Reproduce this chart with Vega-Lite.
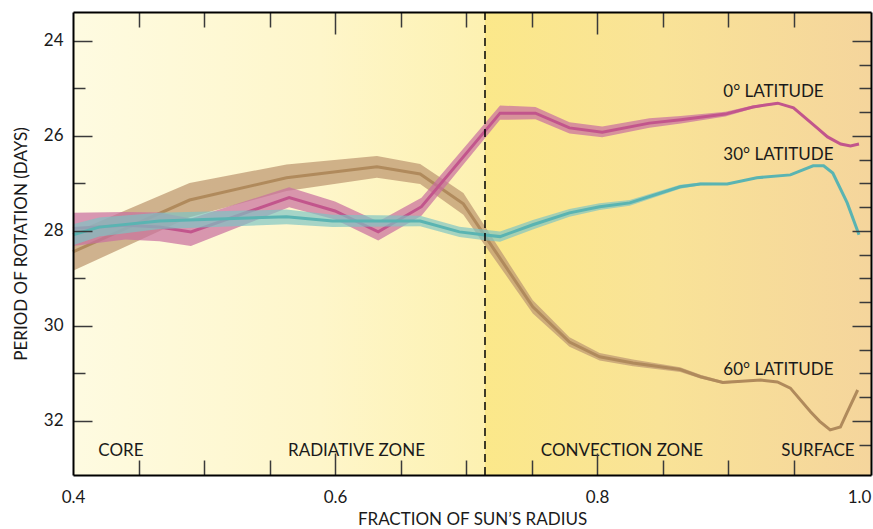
{
  "$schema": "https://vega.github.io/schema/vega-lite/v6.json",
  "width": 798,
  "height": 463,
  "autosize": "none",
  "padding": {"left": 73, "top": 12, "right": 2, "bottom": 54},
  "background": "#ffffff",
  "config": {
    "view": {"stroke": null},
    "font": "Lato",
    "axis": {"zindex": 1, "grid": false, "labelFont": "Lato", "titleFont": "Lato", "labelColor": "#1a1a1a", "titleColor": "#1a1a1a", "labelFontSize": 17, "titleFontSize": 17, "titleFontWeight": "normal", "domainColor": "#000000", "domainWidth": 2, "tickColor": "#3a3a3a", "tickWidth": 1.5}
  },
  "datasets": {
    "series": [
      {"lat": "0", "r": 0.400, "mid": 27.95, "lo": 27.62, "hi": 28.32},
      {"lat": "0", "r": 0.440, "mid": 27.88, "lo": 27.60, "hi": 28.18},
      {"lat": "0", "r": 0.466, "mid": 27.92, "lo": 27.61, "hi": 28.22},
      {"lat": "0", "r": 0.490, "mid": 28.02, "lo": 27.74, "hi": 28.32},
      {"lat": "0", "r": 0.565, "mid": 27.30, "lo": 27.08, "hi": 27.50},
      {"lat": "0", "r": 0.600, "mid": 27.58, "lo": 27.38, "hi": 27.76},
      {"lat": "0", "r": 0.633, "mid": 28.02, "lo": 27.80, "hi": 28.20},
      {"lat": "0", "r": 0.666, "mid": 27.49, "lo": 27.30, "hi": 27.68},
      {"lat": "0", "r": 0.726, "mid": 25.52, "lo": 25.36, "hi": 25.66},
      {"lat": "0", "r": 0.753, "mid": 25.52, "lo": 25.39, "hi": 25.65},
      {"lat": "0", "r": 0.779, "mid": 25.83, "lo": 25.71, "hi": 25.95},
      {"lat": "0", "r": 0.804, "mid": 25.92, "lo": 25.80, "hi": 26.03},
      {"lat": "0", "r": 0.840, "mid": 25.73, "lo": 25.63, "hi": 25.83},
      {"lat": "0", "r": 0.864, "mid": 25.66, "lo": 25.58, "hi": 25.74},
      {"lat": "0", "r": 0.898, "mid": 25.54, "lo": 25.49, "hi": 25.59},
      {"lat": "0", "r": 0.919, "mid": 25.39, "lo": 25.36, "hi": 25.42},
      {"lat": "0", "r": 0.938, "mid": 25.31, "lo": 25.29, "hi": 25.33},
      {"lat": "0", "r": 0.950, "mid": 25.41, "lo": 25.40, "hi": 25.42},
      {"lat": "0", "r": 0.968, "mid": 25.83, "lo": 25.83, "hi": 25.83},
      {"lat": "0", "r": 0.976, "mid": 26.02, "lo": 26.02, "hi": 26.02},
      {"lat": "0", "r": 0.986, "mid": 26.17, "lo": 26.17, "hi": 26.17},
      {"lat": "0", "r": 0.9935, "mid": 26.21, "lo": 26.21, "hi": 26.21},
      {"lat": "0", "r": 1.000, "mid": 26.17, "lo": 26.17, "hi": 26.17},

      {"lat": "30", "r": 0.400, "mid": 28.08, "lo": 27.86, "hi": 28.30},
      {"lat": "30", "r": 0.420, "mid": 27.92, "lo": 27.72, "hi": 28.12},
      {"lat": "30", "r": 0.466, "mid": 27.79, "lo": 27.62, "hi": 27.96},
      {"lat": "30", "r": 0.563, "mid": 27.70, "lo": 27.55, "hi": 27.86},
      {"lat": "30", "r": 0.598, "mid": 27.79, "lo": 27.66, "hi": 27.92},
      {"lat": "30", "r": 0.665, "mid": 27.79, "lo": 27.68, "hi": 27.90},
      {"lat": "30", "r": 0.695, "mid": 28.02, "lo": 27.91, "hi": 28.13},
      {"lat": "30", "r": 0.713, "mid": 28.08, "lo": 27.97, "hi": 28.19},
      {"lat": "30", "r": 0.726, "mid": 28.12, "lo": 28.01, "hi": 28.23},
      {"lat": "30", "r": 0.751, "mid": 27.87, "lo": 27.77, "hi": 27.97},
      {"lat": "30", "r": 0.779, "mid": 27.62, "lo": 27.54, "hi": 27.70},
      {"lat": "30", "r": 0.802, "mid": 27.49, "lo": 27.42, "hi": 27.56},
      {"lat": "30", "r": 0.825, "mid": 27.41, "lo": 27.35, "hi": 27.47},
      {"lat": "30", "r": 0.8635, "mid": 27.07, "lo": 27.03, "hi": 27.11},
      {"lat": "30", "r": 0.879, "mid": 27.01, "lo": 26.98, "hi": 27.04},
      {"lat": "30", "r": 0.8994, "mid": 27.01, "lo": 26.99, "hi": 27.03},
      {"lat": "30", "r": 0.922, "mid": 26.88, "lo": 26.87, "hi": 26.89},
      {"lat": "30", "r": 0.9476, "mid": 26.82, "lo": 26.82, "hi": 26.82},
      {"lat": "30", "r": 0.965, "mid": 26.63, "lo": 26.63, "hi": 26.63},
      {"lat": "30", "r": 0.973, "mid": 26.63, "lo": 26.63, "hi": 26.63},
      {"lat": "30", "r": 0.980, "mid": 26.78, "lo": 26.78, "hi": 26.78},
      {"lat": "30", "r": 0.991, "mid": 27.41, "lo": 27.41, "hi": 27.41},
      {"lat": "30", "r": 1.000, "mid": 28.08, "lo": 28.08, "hi": 28.08},

      {"lat": "60", "r": 0.400, "mid": 28.44, "lo": 28.04, "hi": 28.84},
      {"lat": "60", "r": 0.489, "mid": 27.35, "lo": 26.99, "hi": 27.71},
      {"lat": "60", "r": 0.563, "mid": 26.88, "lo": 26.60, "hi": 27.16},
      {"lat": "60", "r": 0.632, "mid": 26.65, "lo": 26.42, "hi": 26.88},
      {"lat": "60", "r": 0.665, "mid": 26.80, "lo": 26.59, "hi": 27.01},
      {"lat": "60", "r": 0.698, "mid": 27.43, "lo": 27.20, "hi": 27.66},
      {"lat": "60", "r": 0.751, "mid": 29.60, "lo": 29.46, "hi": 29.74},
      {"lat": "60", "r": 0.779, "mid": 30.34, "lo": 30.24, "hi": 30.44},
      {"lat": "60", "r": 0.802, "mid": 30.65, "lo": 30.57, "hi": 30.73},
      {"lat": "60", "r": 0.8275, "mid": 30.78, "lo": 30.71, "hi": 30.85},
      {"lat": "60", "r": 0.8635, "mid": 30.92, "lo": 30.87, "hi": 30.97},
      {"lat": "60", "r": 0.879, "mid": 31.07, "lo": 31.03, "hi": 31.11},
      {"lat": "60", "r": 0.896, "mid": 31.19, "lo": 31.16, "hi": 31.22},
      {"lat": "60", "r": 0.925, "mid": 31.14, "lo": 31.13, "hi": 31.15},
      {"lat": "60", "r": 0.9377, "mid": 31.18, "lo": 31.18, "hi": 31.18},
      {"lat": "60", "r": 0.9476, "mid": 31.31, "lo": 31.31, "hi": 31.31},
      {"lat": "60", "r": 0.963, "mid": 31.81, "lo": 31.81, "hi": 31.81},
      {"lat": "60", "r": 0.970, "mid": 32.01, "lo": 32.01, "hi": 32.01},
      {"lat": "60", "r": 0.978, "mid": 32.19, "lo": 32.19, "hi": 32.19},
      {"lat": "60", "r": 0.9858, "mid": 32.13, "lo": 32.13, "hi": 32.13},
      {"lat": "60", "r": 0.9906, "mid": 31.84, "lo": 31.84, "hi": 31.84},
      {"lat": "60", "r": 0.999, "mid": 31.35, "lo": 31.35, "hi": 31.35}
    ]
  },
  "layer": [
    {
      "data": {"values": [{"r0": 0.4, "r1": 0.7145}]},
      "mark": {"type": "rect", "color": {"gradient": "linear", "x1": 0, "x2": 1, "y1": 0, "y2": 0, "stops": [{"offset": 0, "color": "#FEFBE1"}, {"offset": 0.6, "color": "#FEF6CA"}, {"offset": 1, "color": "#FDF1B1"}]}},
      "encoding": {
        "x": {"field": "r0", "type": "quantitative", "scale": {"domain": [0.4, 1.00916], "nice": false, "zero": false},
          "axis": {"orient": "bottom", "zindex": 2, "values": [0.4, 0.45, 0.5, 0.55, 0.6, 0.65, 0.7, 0.75, 0.8, 0.85, 0.9, 0.95, 1.0], "format": ".1f",
            "labelExpr": "round(datum.value*20) % 4 == 0 ? datum.label : ''",
            "tickSize": {"condition": {"test": "round(datum.value*20) % 4 == 0", "value": -22}, "value": -15},
            "tickOpacity": {"condition": {"test": "datum.value > 0.99 || datum.value < 0.41", "value": 0}, "value": 1},
            "labelPadding": 36, "labelFlush": false, "title": "FRACTION OF SUN\u2019S RADIUS", "titlePadding": 6}},
        "x2": {"field": "r1"}
      }
    },
    {
      "data": {"values": [{"r0": 0.7145, "r1": 1.00916}]},
      "mark": {"type": "rect", "color": {"gradient": "linear", "x1": 0, "x2": 1, "y1": 0, "y2": 0, "stops": [{"offset": 0, "color": "#FBE88A"}, {"offset": 0.45, "color": "#F9E397"}, {"offset": 1, "color": "#F5D59C"}]}},
      "encoding": {
        "x": {"field": "r0", "type": "quantitative",
          "axis": {"orient": "top", "zindex": 2, "values": [0.4, 0.45, 0.5, 0.55, 0.6, 0.65, 0.7, 0.75, 0.8, 0.85, 0.9, 0.95, 1.0], "labels": false, "title": null,
            "tickSize": {"condition": {"test": "round(datum.value*20) % 4 == 0", "value": -22}, "value": -15},
            "tickOpacity": {"condition": {"test": "datum.value > 0.99 || datum.value < 0.41", "value": 0}, "value": 1}}},
        "x2": {"field": "r1"}
      }
    },
    {
      "data": {"name": "series"},
      "transform": [{"filter": "datum.lat == '60'"}],
      "mark": {"type": "area", "color": "#BF9A73", "opacity": 0.75},
      "encoding": {
        "x": {"field": "r", "type": "quantitative", "axis": null},
        "y": {"field": "lo", "type": "quantitative", "scale": {"domain": [23.39, 33.14], "reverse": true, "nice": false, "zero": false},
          "axis": {"orient": "left", "zindex": 2, "values": [24, 24.5, 25, 25.5, 26, 26.5, 27, 27.5, 28, 28.5, 29, 29.5, 30, 30.5, 31, 31.5, 32, 32.5], "format": "d",
            "labelExpr": "datum.value % 2 === 0 ? datum.label : ''",
            "tickSize": {"condition": {"test": "datum.value % 2 === 0", "value": -19}, "value": -12},
            "labelPadding": 29, "title": "PERIOD OF ROTATION (DAYS)", "titlePadding": 13}},
        "y2": {"field": "hi"}
      }
    },
    {
      "data": {"name": "series"},
      "transform": [{"filter": "datum.lat == '60'"}],
      "mark": {"type": "line", "color": "#B08A5C", "strokeWidth": 3},
      "encoding": {
        "x": {"field": "r", "type": "quantitative", "axis": null},
        "y": {"field": "mid", "type": "quantitative",
          "axis": {"orient": "right", "zindex": 2, "values": [24, 24.5, 25, 25.5, 26, 26.5, 27, 27.5, 28, 28.5, 29, 29.5, 30, 30.5, 31, 31.5, 32, 32.5], "labels": false, "title": null,
            "tickSize": {"condition": {"test": "datum.value % 2 === 0", "value": -19}, "value": -12}}}
      }
    },
    {
      "data": {"name": "series"},
      "transform": [{"filter": "datum.lat == '0'"}],
      "mark": {"type": "area", "color": "#C9709F", "opacity": 0.72},
      "encoding": {
        "x": {"field": "r", "type": "quantitative", "axis": null},
        "y": {"field": "lo", "type": "quantitative", "axis": null},
        "y2": {"field": "hi"}
      }
    },
    {
      "data": {"name": "series"},
      "transform": [{"filter": "datum.lat == '0'"}],
      "mark": {"type": "line", "color": "#C2558C", "strokeWidth": 3},
      "encoding": {
        "x": {"field": "r", "type": "quantitative", "axis": null},
        "y": {"field": "mid", "type": "quantitative", "axis": null}
      }
    },
    {
      "data": {"name": "series"},
      "transform": [{"filter": "datum.lat == '30'"}],
      "mark": {"type": "area", "color": "#7CC4C4", "opacity": 0.68},
      "encoding": {
        "x": {"field": "r", "type": "quantitative", "axis": null},
        "y": {"field": "lo", "type": "quantitative", "axis": null},
        "y2": {"field": "hi"}
      }
    },
    {
      "data": {"name": "series"},
      "transform": [{"filter": "datum.lat == '30'"}],
      "mark": {"type": "line", "color": "#5AB4B2", "strokeWidth": 3},
      "encoding": {
        "x": {"field": "r", "type": "quantitative", "axis": null},
        "y": {"field": "mid", "type": "quantitative", "axis": null}
      }
    },
    {
      "data": {"values": [{"r": 0.7145}]},
      "mark": {"type": "rule", "color": "#000000", "strokeWidth": 1.5, "strokeDash": [8, 5]},
      "encoding": {"x": {"field": "r", "type": "quantitative", "axis": null}}
    },
    {
      "data": {"values": [
        {"r": 0.4193, "d": 32.73, "t": "CORE"},
        {"r": 0.8964, "d": 25.19, "t": "0\u00b0 LATITUDE"},
        {"r": 0.8964, "d": 26.51, "t": "30\u00b0 LATITUDE"},
        {"r": 0.8964, "d": 31.03, "t": "60\u00b0 LATITUDE"}
      ]},
      "mark": {"type": "text", "font": "Lato", "fontSize": 17, "color": "#1a1a1a", "baseline": "alphabetic", "align": "left"},
      "encoding": {
        "x": {"field": "r", "type": "quantitative", "axis": null},
        "y": {"field": "d", "type": "quantitative", "axis": null},
        "text": {"field": "t"}
      }
    },
    {
      "data": {"values": [
        {"r": 0.6164, "d": 32.73, "t": "RADIATIVE ZONE"},
        {"r": 0.819, "d": 32.73, "t": "CONVECTION ZONE"},
        {"r": 0.9687, "d": 32.73, "t": "SURFACE"}
      ]},
      "mark": {"type": "text", "font": "Lato", "fontSize": 17, "color": "#1a1a1a", "baseline": "alphabetic", "align": "center"},
      "encoding": {
        "x": {"field": "r", "type": "quantitative", "axis": null},
        "y": {"field": "d", "type": "quantitative", "axis": null},
        "text": {"field": "t"}
      }
    }
  ],
  "resolve": {"axis": {"x": "independent", "y": "independent"}}
}
